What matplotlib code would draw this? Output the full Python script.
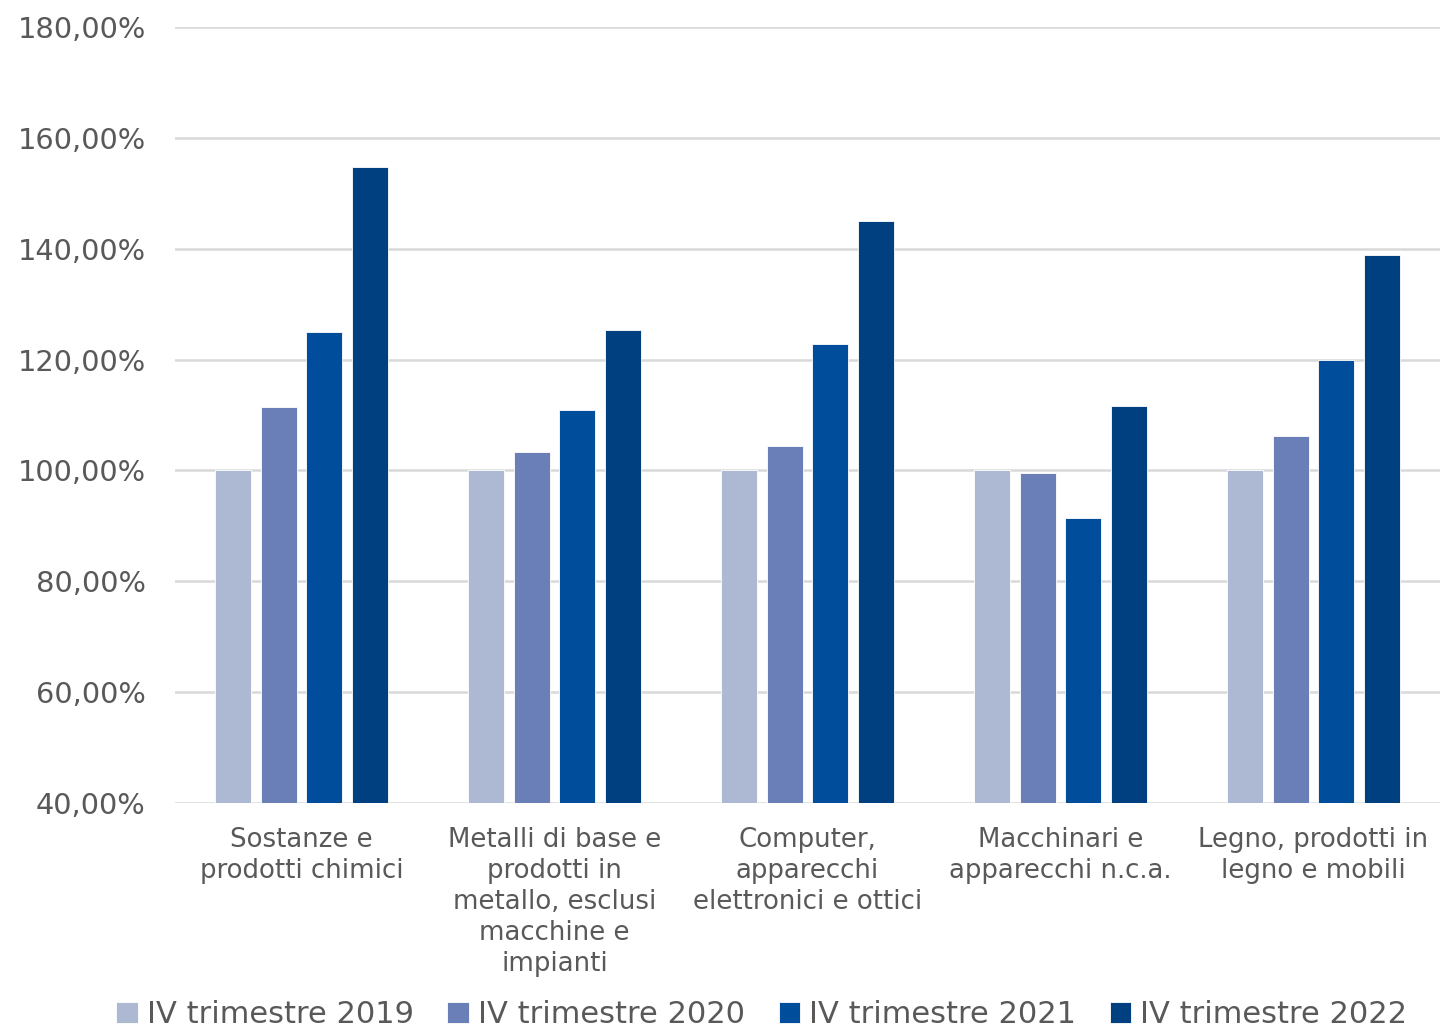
import numpy as np
import matplotlib.pyplot as plt

# Index values (IV trimestre 2019 = 100%)
categories = [
    "Sostanze e\nprodotti chimici",
    "Metalli di base e\nprodotti in\nmetallo, esclusi\nmacchine e\nimpianti",
    "Computer,\napparecchi\nelettronici e ottici",
    "Macchinari e\napparecchi n.c.a.",
    "Legno, prodotti in\nlegno e mobili",
]
series_names = ["IV trimestre 2019", "IV trimestre 2020",
                "IV trimestre 2021", "IV trimestre 2022"]
q4_2019 = [100.0, 100.0, 100.0, 100.0, 100.0]
q4_2020 = [111.5, 103.4, 104.4, 99.5, 106.3]
q4_2021 = [124.9, 110.9, 122.8, 91.5, 119.9]
q4_2022 = [154.7, 125.3, 145.0, 111.6, 138.8]
series = [q4_2019, q4_2020, q4_2021, q4_2022]
colors = ["#ADB8D3", "#6A7FB7", "#004D9C", "#003F80"]

text_col = "#595959"
plt.rcParams['font.family'] = ['DejaVu Sans']

fig = plt.figure(figsize=(14.4, 10.29), dpi=100)
ax = fig.add_axes([0.1215, 0.2196, 0.8785, 0.7542])

x = np.arange(len(categories))
width = 0.142
pitch = 0.181
for i, (vals, col, name) in enumerate(zip(series, colors, series_names)):
    offs = (i - 1.5) * pitch
    ax.bar(x + offs, np.array(vals) - 40, width, bottom=40, color=col,
           edgecolor="white", linewidth=0.6, label=name, zorder=3)

ax.set_xlim(-0.5, len(categories) - 0.5)
ax.set_ylim(40, 180)
ax.set_yticks(np.arange(40, 181, 20))
ax.set_yticklabels([f"{v},00%" for v in range(40, 181, 20)])
ax.grid(axis="y", color="#D9D9D9", linewidth=1.8, zorder=0)
ax.set_axisbelow(True)
for s in ax.spines.values():
    s.set_visible(False)
ax.tick_params(axis="both", length=0, colors=text_col)
ax.tick_params(axis="y", labelsize=20.8, pad=21)
ax.set_xticks(x)
ax.set_xticklabels(categories, fontsize=18.7, color=text_col, linespacing=1.25)
ax.tick_params(axis="x", pad=17)

leg = fig.legend(loc="lower center", bbox_to_anchor=(0.529, -0.027), ncol=4,
                 frameon=False, fontsize=22, handlelength=0.7, handleheight=0.7,
                 handletextpad=0.3, columnspacing=1.1)
for t in leg.get_texts():
    t.set_color(text_col)

fig.savefig("out.png", dpi=100)
